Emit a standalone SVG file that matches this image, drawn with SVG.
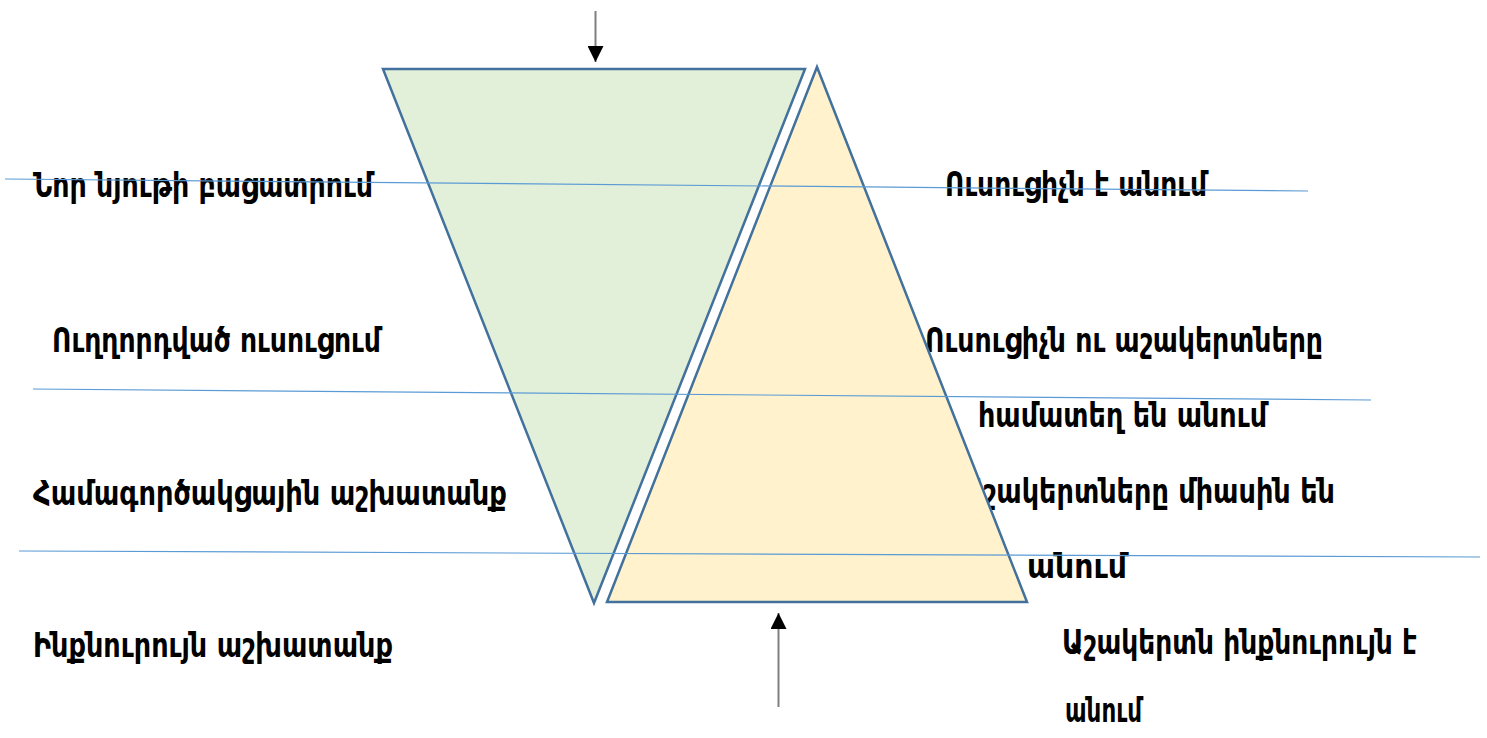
<svg xmlns="http://www.w3.org/2000/svg" width="1487" height="738" viewBox="0 0 1487 738">
  <defs>
    <style>
      .lbl { font-family: "DejaVu Sans", sans-serif; font-weight: bold; font-size: 33px; fill: #000; }
      .tri { stroke: #41719C; stroke-width: 2.5; stroke-linejoin: miter; }
      .hl { stroke: #5B9BD5; stroke-width: 1.2; fill: none; }
      .arr { stroke: #7F7F7F; stroke-width: 2; fill: none; }
    </style>
    <marker id="ah" viewBox="0 0 16 16" refX="16" refY="8" markerWidth="16" markerHeight="16" markerUnits="userSpaceOnUse" orient="auto">
      <path d="M0,0 L16,8 L0,16 Z" fill="#000"/>
    </marker>
  </defs>
  <rect width="1487" height="738" fill="#fff"/>

  <g id="labels">
    <text class="lbl" x="33" y="197" textLength="340" lengthAdjust="spacingAndGlyphs">Նոր նյութի բացատրում</text>
    <text class="lbl" x="945" y="196" textLength="262" lengthAdjust="spacingAndGlyphs">Ուսուցիչն է անում</text>
    <text class="lbl" x="52" y="352" textLength="329" lengthAdjust="spacingAndGlyphs">Ուղղորդված ուսուցում</text>
    <text class="lbl" x="925" y="352" textLength="398" lengthAdjust="spacingAndGlyphs">Ուսուցիչն ու աշակերտները</text>
    <text class="lbl" x="978" y="427" textLength="289" lengthAdjust="spacingAndGlyphs">համատեղ են անում</text>
    <text class="lbl" x="33" y="505" textLength="474" lengthAdjust="spacingAndGlyphs">Համագործակցային աշխատանք</text>
    <text class="lbl" x="961" y="503" textLength="374" lengthAdjust="spacingAndGlyphs">Աշակերտները միասին են</text>
    <text class="lbl" x="1027" y="578" textLength="100" lengthAdjust="spacingAndGlyphs">անում</text>
    <text class="lbl" x="33" y="657" textLength="360" lengthAdjust="spacingAndGlyphs">Ինքնուրույն աշխատանք</text>
    <text class="lbl" x="1062" y="654" textLength="355" lengthAdjust="spacingAndGlyphs">Աշակերտն ինքնուրույն է</text>
    <text class="lbl" x="1065" y="722" textLength="77" lengthAdjust="spacingAndGlyphs">անում</text>
  </g>

  <g id="teacher-triangle">
    <polygon class="tri" points="383,69 805,69 594,603" fill="#E2EFD9"/>
  </g>
  <g id="student-triangle">
    <polygon class="tri" points="817,67 1027,602 607,602" fill="#FFF2CC"/>
  </g>

  <g id="connectors">
    <line class="hl" x1="5" y1="179" x2="1308" y2="191"/>
    <line class="hl" x1="33" y1="389" x2="1371" y2="400"/>
    <line class="hl" x1="19" y1="551" x2="1480" y2="557"/>
    <line class="arr" x1="595.5" y1="11" x2="595.5" y2="62" marker-end="url(#ah)"/>
    <line class="arr" x1="778.5" y1="707" x2="778.5" y2="613" marker-end="url(#ah)"/>
  </g>
</svg>
